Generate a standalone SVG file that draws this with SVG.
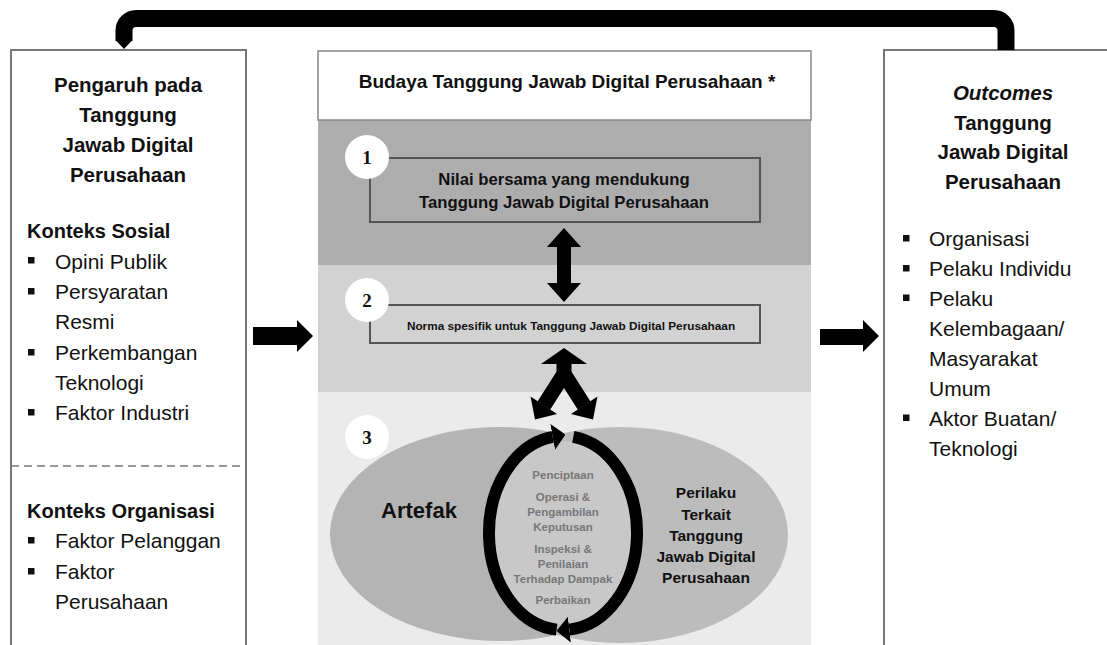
<svg xmlns="http://www.w3.org/2000/svg" width="1107" height="645" viewBox="0 0 1107 645">
<defs>
<style>
text{font-family:"Liberation Sans",Arial,sans-serif;fill:#111}
.t{font-size:20.5px;font-weight:bold;text-anchor:middle}
.h{font-size:20px;font-weight:bold}
.b{font-size:21px}
.box{fill:#fff;stroke:#777;stroke-width:2}
.num{font-family:"Liberation Serif","Times New Roman",serif;font-size:19px;font-weight:bold;text-anchor:middle}
.cyc{font-size:11.5px;font-weight:bold;fill:#777;text-anchor:middle}
.per{font-size:15.5px;font-weight:bold;text-anchor:middle}
.blk{fill:#000}
</style>
<marker id="ah" markerUnits="userSpaceOnUse" markerWidth="13" markerHeight="26" viewBox="0 0 13 26" refX="0" refY="13" orient="auto"><path d="M0,0 L13,13 L0,26 Z" fill="#000"/></marker>
<clipPath id="lclip"><rect x="300" y="380" width="263" height="270"/></clipPath>
</defs>
<rect width="1107" height="645" fill="#fff"/>

<g id="node-influences">
<rect class="box" x="11" y="50" width="235" height="640"/>
<text class="t" x="128" y="92">Pengaruh pada</text>
<text class="t" x="128" y="122">Tanggung</text>
<text class="t" x="128" y="152">Jawab Digital</text>
<text class="t" x="128" y="182">Perusahaan</text>
<text class="h" x="27" y="238">Konteks Sosial</text>
<g fill="#111"><rect x="28" y="257" width="6.5" height="6.5"/><rect x="28" y="288" width="6.5" height="6.5"/><rect x="28" y="349" width="6.5" height="6.5"/><rect x="28" y="409" width="6.5" height="6.5"/><rect x="28" y="537" width="6.5" height="6.5"/><rect x="28" y="568" width="6.5" height="6.5"/></g>
<text class="b" x="55" y="268.5">Opini Publik</text>
<text class="b" x="55" y="299">Persyaratan</text>
<text class="b" x="55" y="329">Resmi</text>
<text class="b" x="55" y="359.5">Perkembangan</text>
<text class="b" x="55" y="390">Teknologi</text>
<text class="b" x="55" y="420">Faktor Industri</text>
<line x1="11" y1="466" x2="246" y2="466" stroke="#777" stroke-width="1.5" stroke-dasharray="8,5"/>
<text class="h" x="27" y="518">Konteks Organisasi</text>
<text class="b" x="55" y="548">Faktor Pelanggan</text>
<text class="b" x="55" y="579">Faktor</text>
<text class="b" x="55" y="609">Perusahaan</text>
</g>

<g id="node-culture">
<rect x="318" y="120" width="493" height="145" fill="#adadad"/>
<rect x="318" y="265" width="493" height="127" fill="#d2d2d2"/>
<rect x="318" y="392" width="493" height="260" fill="#ebebeb"/>
<rect x="318" y="51" width="493" height="69" fill="#fff" stroke="#888" stroke-width="1.5"/>
<text x="567" y="88" font-size="19px" font-weight="bold" text-anchor="middle">Budaya Tanggung Jawab Digital Perusahaan *</text>
</g>

<g id="node-values">
<rect x="370" y="158" width="390" height="64" fill="none" stroke="#555" stroke-width="2"/>
<circle cx="367" cy="157" r="22" fill="#fff"/>
<text class="num" x="367" y="163.5">1</text>
<text x="564" y="185" font-size="16.7px" font-weight="bold" text-anchor="middle">Nilai bersama yang mendukung</text>
<text x="564" y="208" font-size="16.7px" font-weight="bold" text-anchor="middle">Tanggung Jawab Digital Perusahaan</text>
</g>

<g id="node-norms">
<rect x="370" y="305" width="390" height="38" fill="none" stroke="#555" stroke-width="2"/>
<circle cx="367" cy="300" r="22" fill="#fff"/>
<text class="num" x="367" y="306.5">2</text>
<text x="571" y="330" font-size="11.8px" font-weight="bold" text-anchor="middle">Norma spesifik untuk Tanggung Jawab Digital Perusahaan</text>
</g>

<g id="node-artifacts-behaviour">
<circle cx="367" cy="437" r="22" fill="#fff"/>
<text class="num" x="367" y="443.5">3</text>
<ellipse cx="620" cy="535" rx="168" ry="108" fill="#bcbcbc"/>
<ellipse cx="500" cy="534" rx="170" ry="107" fill="#b4b4b4" clip-path="url(#lclip)"/>
<ellipse cx="563" cy="533" rx="69" ry="92" fill="#c8c8c8"/>
<text x="419" y="518" font-size="22px" font-weight="bold" text-anchor="middle">Artefak</text>
<text class="per" x="706" y="498">Perilaku</text>
<text class="per" x="706" y="519.5">Terkait</text>
<text class="per" x="706" y="540.5">Tanggung</text>
<text class="per" x="706" y="561.5">Jawab Digital</text>
<text class="per" x="706" y="583">Perusahaan</text>
</g>

<g id="node-cycle">
<path d="M556.6,629.6 A74,97 0 0 1 552.7,436.9" fill="none" stroke="#000" stroke-width="12" marker-end="url(#ah)"/>
<path d="M573.3,436.9 A74,97 0 0 1 569.4,629.6" fill="none" stroke="#000" stroke-width="12" marker-end="url(#ah)"/>
<text class="cyc" x="563" y="479">Penciptaan</text>
<text class="cyc" x="563" y="501">Operasi &amp;</text>
<text class="cyc" x="563" y="516">Pengambilan</text>
<text class="cyc" x="563" y="531">Keputusan</text>
<text class="cyc" x="563" y="553">Inspeksi &amp;</text>
<text class="cyc" x="563" y="568">Penilaian</text>
<text class="cyc" x="563" y="583">Terhadap Dampak</text>
<text class="cyc" x="563" y="604">Perbaikan</text>
</g>

<g id="node-outcomes">
<rect class="box" x="884" y="50" width="240" height="640"/>
<text class="t" x="1003" y="100" font-style="italic">Outcomes</text>
<text class="t" x="1003" y="129.5">Tanggung</text>
<text class="t" x="1003" y="159">Jawab Digital</text>
<text class="t" x="1003" y="188.5">Perusahaan</text>
<g fill="#111"><rect x="903" y="235" width="6.5" height="6.5"/><rect x="903" y="265" width="6.5" height="6.5"/><rect x="903" y="294.5" width="6.5" height="6.5"/><rect x="903" y="414.5" width="6.5" height="6.5"/></g>
<text class="b" x="929" y="246">Organisasi</text>
<text class="b" x="929" y="276">Pelaku Individu</text>
<text class="b" x="929" y="305.5">Pelaku</text>
<text class="b" x="929" y="335.5">Kelembagaan/</text>
<text class="b" x="929" y="365.5">Masyarakat</text>
<text class="b" x="929" y="395.5">Umum</text>
<text class="b" x="929" y="425.5">Aktor Buatan/</text>
<text class="b" x="929" y="455.5">Teknologi</text>
</g>

<g id="connectors">
<path d="M1006,50 V31 A12,12 0 0 0 994,18.5 H136 A12,12 0 0 0 124,30.5 V41" fill="none" stroke="#000" stroke-width="17"/>
<polygon class="blk" points="115.5,40 132.5,40 124,49"/>
<polygon class="blk" points="253,327 297,327 297,320 313,336 297,352 297,345 253,345"/>
<polygon class="blk" points="820,329 863,329 863,320 879,336 863,352 863,345 820,345"/>
<polygon class="blk" points="564,228 581,247 571,247 571,283 581,283 564,302 547,283 557,283 557,247 547,247"/>
<polygon class="blk" points="564,348 587,364 541,364"/>
<line x1="564" y1="362" x2="564" y2="380" stroke="#000" stroke-width="15"/>
<polyline points="543.8,405.6 564,374 584.2,405.6" fill="none" stroke="#000" stroke-width="15"/>
<polygon class="blk" points="530.5,396.5 557,414 535,419.5"/>
<polygon class="blk" points="597.5,396.5 571,414 593,419.5"/>
</g>
</svg>
